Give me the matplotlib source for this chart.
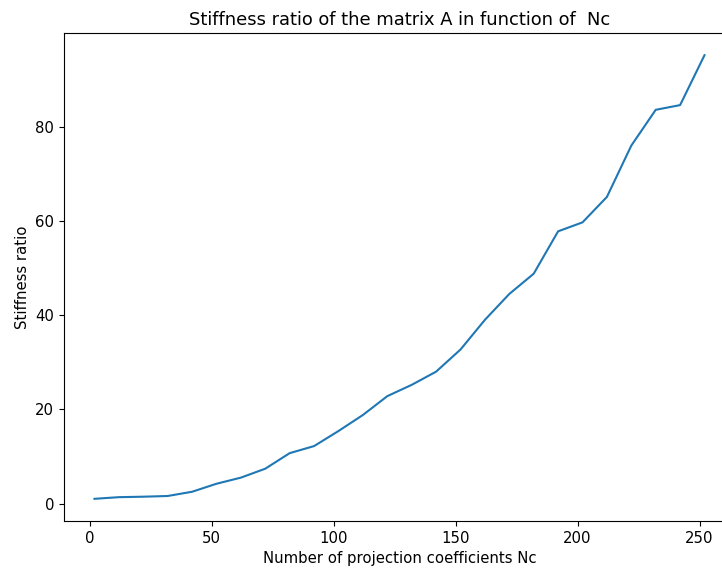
import matplotlib
matplotlib.use("Agg")
import matplotlib.pyplot as plt

nc = [2, 12, 22, 32, 42, 52, 62, 72, 82, 92, 102, 112, 122, 132, 142,
      152, 162, 172, 182, 192, 202, 212, 222, 232, 242, 252]
ratio = [1.0, 1.35, 1.45, 1.6, 2.5, 4.2, 5.5, 7.4, 10.7, 12.2, 15.4, 18.8, 22.8, 25.2, 28.0,
         32.7, 39.0, 44.5, 48.8, 57.8, 59.7, 65.1, 76.0, 83.6, 84.6, 95.2]

plt.rcParams['font.size'] = 10.7
fig = plt.figure(figsize=(7.22, 5.69), dpi=100)
ax = fig.add_axes([64 / 722, 48 / 569, (735 - 64) / 722, (521 - 33) / 569])
ax.plot(nc, ratio)
ax.set_title("Stiffness ratio of the matrix A in function of  Nc", fontsize=12.9)
ax.set_xlabel("Number of projection coefficients Nc")
ax.set_ylabel("Stiffness ratio")
fig.savefig("out.png", dpi=100)
